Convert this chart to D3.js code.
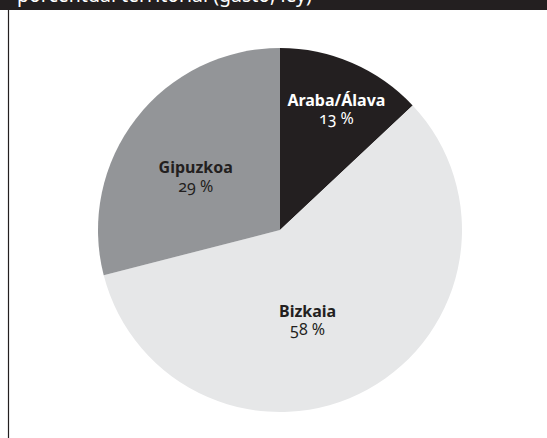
<!DOCTYPE html>
<html>
<head>
<meta charset="utf-8">
<script src="https://cdn.jsdelivr.net/npm/d3@7"></script>
<style>
  body { margin: 0; background: #fff; }
  svg { display: block; }
  text { font-family: "Noto Sans", "Open Sans", sans-serif; }
  .pct { font-variant-numeric: oldstyle-nums; }
</style>
</head>
<body>
<svg width="547" height="438"></svg>
<script>
// data
var regions = ["Araba/Álava", "Bizkaia", "Gipuzkoa"];
var shares = [13, 58, 29];
var title = "porcentual territorial (gasto, ley)";

// colours for the three slices and their label text
var fills = ["#231f20", "#e6e7e8", "#939598"];
var inks = ["#ffffff", "#231f20", "#231f20"];

var svg = d3.select("svg");
var width = +svg.attr("width");
var height = +svg.attr("height");

// header band, only the bottom of the title shows
svg.append("rect")
   .attr("x", 0).attr("y", 0)
   .attr("width", width).attr("height", 10)
   .style("fill", "#231f20");

svg.append("text")
   .attr("x", 17).attr("y", 2)
   .style("fill", "#fff")
   .style("font-size", "19.5px")
   .text(title);

// left frame rule
svg.append("line")
   .attr("x1", 8.5).attr("x2", 8.5)
   .attr("y1", 10).attr("y2", height)
   .style("stroke", "#231f20")
   .style("stroke-width", 1.2);

// pie
var radius = 182;
var plot = svg.append("g")
              .attr("transform", "translate(280,230)");

var table = regions.map(function(d, i) {
  return { name: d, value: shares[i], fill: fills[i], ink: inks[i] };
});

var pie = d3.pie()
            .sort(null)
            .value(function(d) { return d.value; });

var arc = d3.arc().innerRadius(0).outerRadius(radius);
var labelArc = d3.arc().innerRadius(radius * 0.6).outerRadius(radius * 0.6);

var slices = pie(table);

plot.selectAll("path.slice")
    .data(slices)
    .enter()
    .append("path")
    .attr("class", "slice")
    .attr("d", arc)
    .style("fill", function(d) { return d.data.fill; });

// hand nudges to match where the labels sit in the original
var nudge = { "Araba/Álava": [13, -16], "Bizkaia": [-25, -1], "Gipuzkoa": [2, 18] };

var labels = plot.selectAll("g.label")
    .data(slices)
    .enter()
    .append("g")
    .attr("class", "label")
    .attr("transform", function(d) {
      var c = labelArc.centroid(d);
      var n = nudge[d.data.name];
      return "translate(" + (c[0] + n[0]) + "," + (c[1] + n[1]) + ")";
    })
    .style("fill", function(d) { return d.data.ink; })
    .style("text-anchor", "middle");

labels.append("text")
      .attr("y", -8)
      .style("font-size", "16px")
      .style("font-weight", "bold")
      .text(function(d) { return d.data.name; });

labels.append("text")
      .attr("class", "pct")
      .attr("y", 10.5)
      .style("font-size", "16px")
      .text(function(d) { return d.data.value + " %"; });
</script>
</body>
</html>
